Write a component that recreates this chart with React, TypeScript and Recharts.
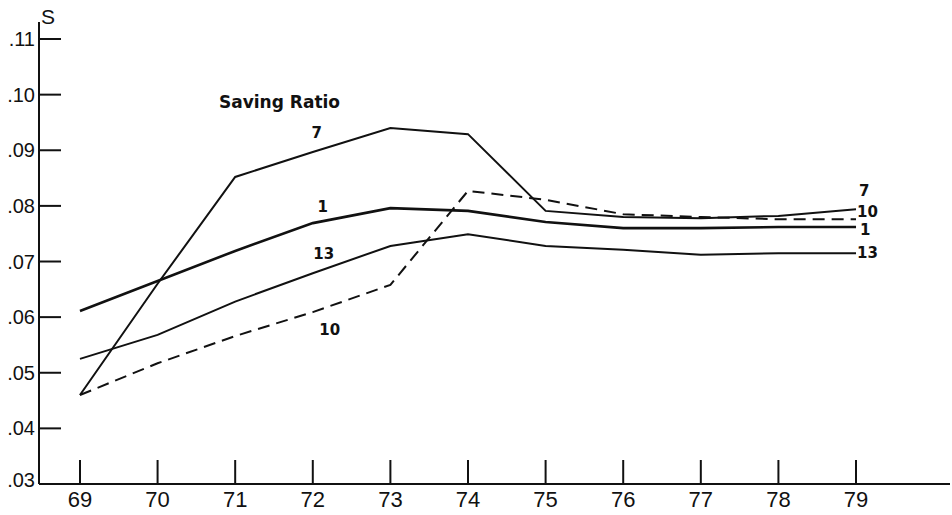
import React from "react";
import { LineChart, Line, XAxis, YAxis } from "recharts";

const years = [69, 70, 71, 72, 73, 74, 75, 76, 77, 78, 79];
const series1 = [0.0611, 0.0665, 0.0719, 0.0769, 0.0796, 0.0791, 0.0771, 0.076, 0.076, 0.0762, 0.0762];
const series7 = [0.046, 0.066, 0.0852, 0.0897, 0.094, 0.0929, 0.0791, 0.078, 0.0778, 0.0782, 0.0794];
const series10 = [0.046, 0.0517, 0.0566, 0.0609, 0.0658, 0.0827, 0.0811, 0.0785, 0.078, 0.0776, 0.0776];
const series13 = [0.0525, 0.0568, 0.0628, 0.0679, 0.0728, 0.0749, 0.0728, 0.0721, 0.0712, 0.0715, 0.0715];
const yTicks = [0.03, 0.04, 0.05, 0.06, 0.07, 0.08, 0.09, 0.1, 0.11];
const xTicks = years;
const title = "Saving Ratio";
const yAxisName = "S";

const data = years.map((yr, i) => ({
  year: yr,
  s1: series1[i],
  s7: series7[i],
  s10: series10[i],
  s13: series13[i],
}));

const labelFont = { fontFamily: "DejaVu Sans", fontWeight: 700, fontSize: 15, fill: "#111" };

function makeLabel(text: string, midIdx: number, mdx: number, mdy: number, edx: number, edy: number) {
  return (props: any) => {
    const { x, y, index } = props;
    if (index === midIdx) {
      return (
        <text key={"m" + text} x={x + mdx} y={y + mdy} textAnchor="middle" dominantBaseline="central" {...labelFont}>
          {text}
        </text>
      );
    }
    if (index === years.length - 1) {
      return (
        <text key={"e" + text} x={x + edx} y={y + edy} textAnchor="start" dominantBaseline="central" {...labelFont}>
          {text}
        </text>
      );
    }
    return <g key={"n" + index} />;
  };
}

const YTick = (props: any) => {
  const { x, y, payload } = props;
  const v = payload.value as number;
  const lab = v.toFixed(2).replace(/^0/, "");
  return (
    <g>
      {v > 0.031 && <line x1={x} x2={x + 22} y1={y} y2={y} stroke="#111" strokeWidth={2} />}
      <text
        x={x - 4}
        y={v > 0.031 ? y : y - 4}
        textAnchor="end"
        dominantBaseline="central"
        fontFamily="Liberation Sans"
        fontSize={20}
        fill="#111"
      >
        {lab}
      </text>
    </g>
  );
};

const XTick = (props: any) => {
  const { x, y, payload } = props;
  return (
    <g>
      <line x1={x} x2={x} y1={y} y2={y - 24} stroke="#111" strokeWidth={2} />
      <text
        x={x}
        y={y + 15}
        textAnchor="middle"
        dominantBaseline="central"
        fontFamily="Liberation Sans"
        fontSize={22}
        fill="#111"
      >
        {payload.value}
      </text>
    </g>
  );
};

export default function App() {
  return (
    <div style={{ position: "relative", width: 952, height: 515, background: "#fff" }}>
      <style>{"body{margin:0;background:#fff}"}</style>
      <LineChart
        width={952}
        height={515}
        data={data}
        margin={{ top: 22, right: 2, left: 0, bottom: 0 }}
      >
        <XAxis
          dataKey="year"
          type="number"
          domain={[68.472, 80.211]}
          allowDataOverflow
          ticks={xTicks}
          interval={0}
          height={31}
          tickSize={0}
          tickMargin={0}
          tickLine={false}
          axisLine={{ stroke: "#111", strokeWidth: 2 }}
          tick={<XTick />}
        />
        <YAxis
          type="number"
          domain={[0.03, 0.11306]}
          allowDataOverflow
          ticks={yTicks}
          interval={0}
          width={39}
          tickSize={0}
          tickMargin={0}
          tickLine={false}
          axisLine={{ stroke: "#111", strokeWidth: 2 }}
          tick={<YTick />}
        />
        <Line
          dataKey="s7"
          stroke="#111"
          strokeWidth={2}
          dot={false}
          isAnimationActive={false}
          label={makeLabel("7", 3, 4, -19, 3, -18)}
        />
        <Line
          dataKey="s10"
          stroke="#111"
          strokeWidth={2}
          strokeDasharray="12 7"
          dot={false}
          isAnimationActive={false}
          label={makeLabel("10", 3, 17, 18, 1, -7)}
        />
        <Line
          dataKey="s1"
          stroke="#111"
          strokeWidth={2.6}
          dot={false}
          isAnimationActive={false}
          label={makeLabel("1", 3, 10, -16, 4, 3)}
        />
        <Line
          dataKey="s13"
          stroke="#111"
          strokeWidth={2}
          dot={false}
          isAnimationActive={false}
          label={makeLabel("13", 3, 11, -19, 1, 0)}
        />
      </LineChart>
      <svg
        width={952}
        height={515}
        style={{ position: "absolute", left: 0, top: 0, pointerEvents: "none" }}
      >
        <text x={219} y={108} fontFamily="DejaVu Sans" fontWeight={700} fontSize={17} fill="#111">
          {title}
        </text>
        <text x={48} y={24} textAnchor="middle" fontFamily="Liberation Sans" fontSize={21} fill="#111">
          {yAxisName}
        </text>
      </svg>
    </div>
  );
}
